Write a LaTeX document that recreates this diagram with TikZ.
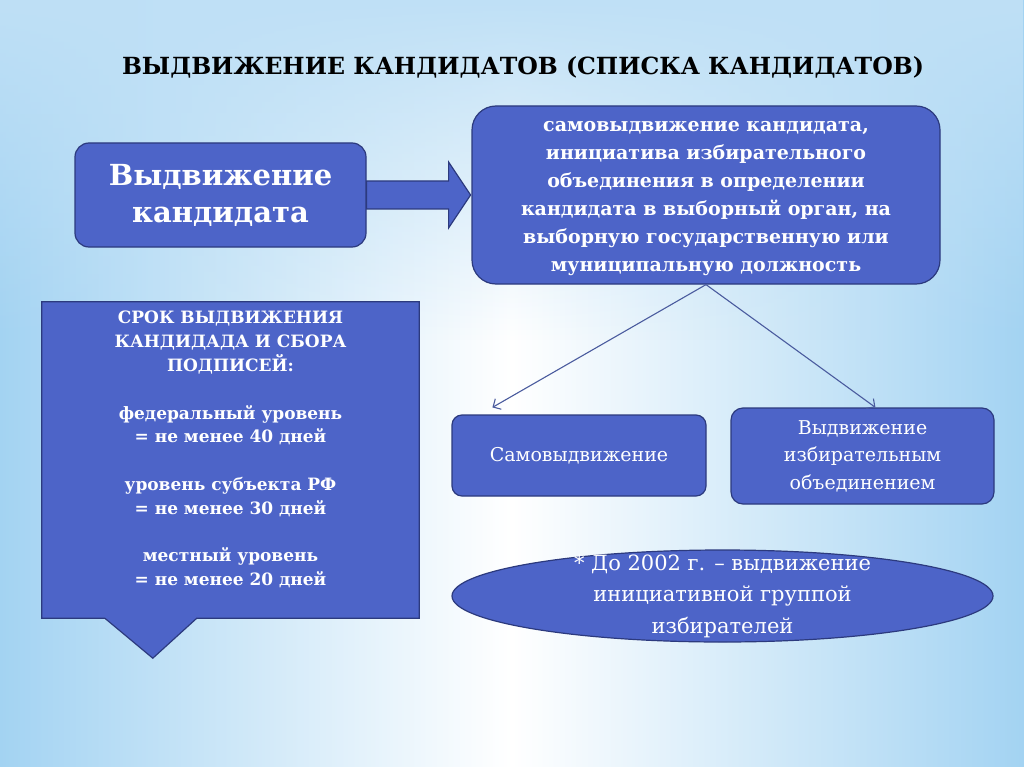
\documentclass[tikz,border=0pt]{standalone}
\usepackage{fontspec}
\setmainfont{DejaVu Serif}
\usetikzlibrary{arrows.meta,calc,shapes.geometric,fadings}
\definecolor{boxfill}{HTML}{4D64C8}
\definecolor{boxline}{HTML}{2C3A7E}
\definecolor{conline}{HTML}{4A5B9E}
\definecolor{bgblue}{HTML}{A3D3F2}
\definecolor{bgtop}{HTML}{BFE0F6}
\tikzset{
  box/.style={draw=boxline, line width=1.2pt, fill=boxfill, text=white, align=center, inner sep=0pt},
  rbox/.style={box, rounded corners=14pt},
  con/.style={draw=conline, line width=1.1pt, -{Straight Barb[length=6pt,width=12pt]}},
}
\begin{document}
\begin{tikzpicture}[x=1pt,y=-1pt]
\useasboundingbox (0,0) rectangle (1024,767);
% background
\shade[left color=bgblue, right color=bgblue, middle color=white] (0,0) rectangle (1024,767);
\fill[bgtop, path fading=south] (0,0) rectangle (1024,340);
% title
\node[font={\fontsize{23.6}{28}\selectfont\bfseries}] (title) at (523,67) {ВЫДВИЖЕНИЕ КАНДИДАТОВ (СПИСКА КАНДИДАТОВ)};
% box A
\node[rbox, minimum width=291, minimum height=104, font={\fontsize{29}{37}\selectfont\bfseries}] (A) at (220.5,195)
  {Выдвижение\\кандидата};
% box B
\node[rbox, rounded corners=24pt, minimum width=468, minimum height=178] (B) at (706,195) {};
\node[text=white, align=center, inner sep=0pt, font={\fontsize{19}{28}\selectfont\bfseries}] (Btext) at ($(B.center)+(0,4)$)
  {самовыдвижение кандидата,\\инициатива избирательного\\объединения в определении\\кандидата в выборный орган, на\\выборную государственную или\\муниципальную должность};
% block arrow A -> B
\filldraw[fill=boxfill, draw=boxline, line width=1.2pt]
  ($(A.east)+(0,-14)$) -- ($(A.east)+(82,-14)$) -- ($(A.east)+(82,-33)$)
  -- ($(A.east)+(104,0)$) -- ($(A.east)+(82,33)$) -- ($(A.east)+(82,14)$)
  -- ($(A.east)+(0,14)$) -- cycle;
% box C
\node[minimum width=377, minimum height=316, inner sep=0pt] (C) at (230.5,460) {};
\filldraw[fill=boxfill, draw=boxline, line width=1.2pt]
  (C.north west) -- (C.north east) -- (C.south east) -- ($(C.south west)+(155,0)$)
  -- ($(C.south west)+(111,40)$) -- ($(C.south west)+(63,0)$) -- (C.south west) -- cycle;
\node[text=white, align=center, anchor=north, inner sep=0pt, font={\fontsize{17}{23.8}\selectfont\bfseries}] (Ctext) at (230.5,311)
  {СРОК ВЫДВИЖЕНИЯ\\КАНДИДАДА И СБОРА\\ПОДПИСЕЙ:\\[23.8pt]
   федеральный уровень\\= не менее 40 дней\\[23.8pt]
   уровень субъекта РФ\\= не менее 30 дней\\[23.8pt]
   местный уровень\\= не менее 20 дней};
% box D, E
\node[rbox, rounded corners=10pt, minimum width=254, minimum height=81, font={\fontsize{19}{27}\selectfont}] (D) at (579,455.5)
  {Самовыдвижение};
\node[rbox, rounded corners=12pt, minimum width=263, minimum height=96, font={\fontsize{19}{27.5}\selectfont}] (E) at (862.5,456)
  {Выдвижение\\избирательным\\объединением};
% connectors
\coordinate (Dt) at ($(D.north west)+(41,-7)$);
\coordinate (Et) at ($(E.north west)+(145,0)$);
\draw[con] (B.south) -- (Dt);
\draw[con] (B.south) -- (Et);
% ellipse
\node[ellipse, draw=boxline, line width=1.2pt, fill=boxfill,
  minimum width=541, minimum height=92, inner sep=0pt] (F) at (722.5,596) {};
\node[text=white, align=center, inner sep=0pt, font={\fontsize{21}{31.5}\selectfont}] (Ftext) at (F.center)
  {* До 2002 г. – выдвижение\\инициативной группой\\избирателей};
\end{tikzpicture}
\end{document}
